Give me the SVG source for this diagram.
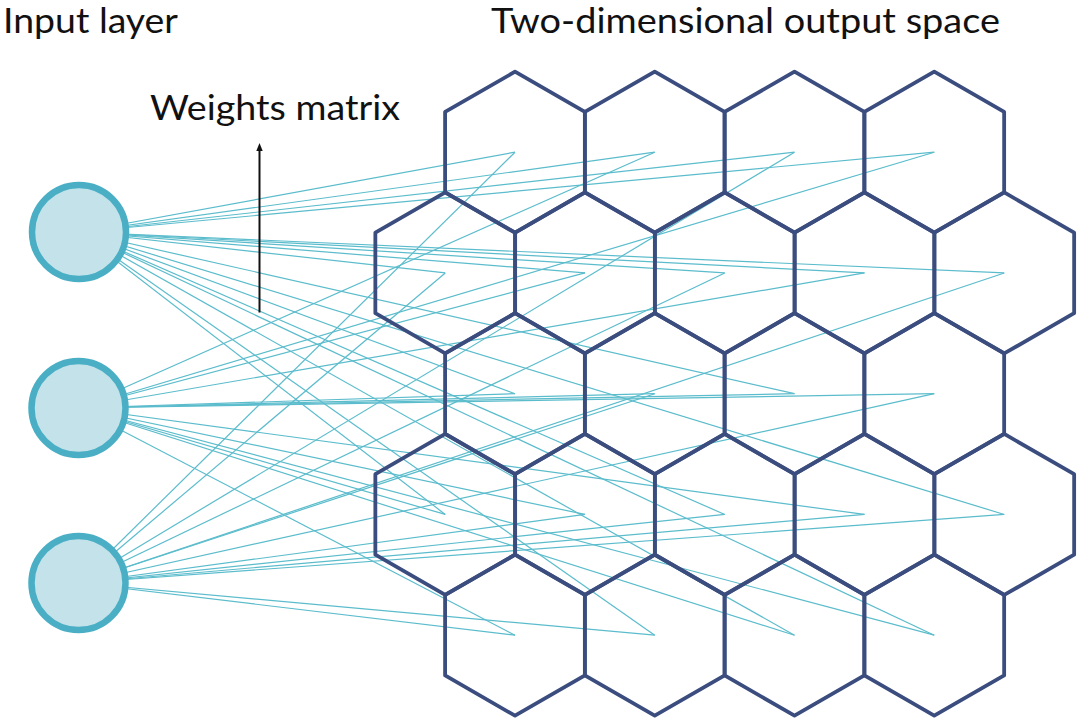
<svg xmlns="http://www.w3.org/2000/svg" xmlns:xlink="http://www.w3.org/1999/xlink" width="1080" height="721" viewBox="0 0 1080 721">
<style>
.lbl{font-family:Lato,"Liberation Sans",sans-serif;font-size:34px;fill:#111}
.hex{fill:none;stroke:#3b4d7e;stroke-width:3.8;stroke-linejoin:round}
.in{fill:#c4e2ea;stroke:#4aafc5;stroke-width:6.5}
.w{stroke:#5bbccc;stroke-width:1.2;fill:none}
.arrow{stroke:#111;stroke-width:2;fill:none}
</style>
<defs>
<polygon id="hx" points="0,-80.5 69.9,-40.25 69.9,40.25 0,80.5 -69.9,40.25 -69.9,-40.25"/>
<marker id="ah" markerWidth="8" markerHeight="8" refX="4" refY="4" orient="auto" markerUnits="userSpaceOnUse">
<path d="M0,0.8 L8,4 L0,7.2 Z" fill="#111"/>
</marker>
</defs>
<rect width="1080" height="721" fill="#fff"/>
<text class="lbl" x="3" y="33" textLength="175" lengthAdjust="spacingAndGlyphs">Input layer</text>
<text class="lbl" x="491" y="33" textLength="509" lengthAdjust="spacingAndGlyphs">Two-dimensional output space</text>
<text class="lbl" x="150" y="120" textLength="250" lengthAdjust="spacingAndGlyphs">Weights matrix</text>
<g id="connectors">
<g class="w">
<line x1="79" y1="232" x2="515" y2="152.2"/>
<line x1="78.5" y1="583" x2="515" y2="152.2"/>
<line x1="79" y1="232" x2="654.75" y2="152.2"/>
<line x1="78.5" y1="408" x2="654.75" y2="152.2"/>
<line x1="79" y1="232" x2="794.5" y2="152.2"/>
<line x1="78.5" y1="583" x2="794.5" y2="152.2"/>
<line x1="79" y1="232" x2="934.25" y2="152.2"/>
<line x1="78.5" y1="408" x2="934.25" y2="152.2"/>
<line x1="79" y1="232" x2="445.25" y2="272.95"/>
<line x1="78.5" y1="583" x2="445.25" y2="272.95"/>
<line x1="79" y1="232" x2="585" y2="272.95"/>
<line x1="78.5" y1="408" x2="585" y2="272.95"/>
<line x1="79" y1="232" x2="724.75" y2="272.95"/>
<line x1="78.5" y1="583" x2="724.75" y2="272.95"/>
<line x1="79" y1="232" x2="864.5" y2="272.95"/>
<line x1="78.5" y1="408" x2="864.5" y2="272.95"/>
<line x1="79" y1="232" x2="1004.25" y2="272.95"/>
<line x1="78.5" y1="583" x2="1004.25" y2="272.95"/>
<line x1="79" y1="232" x2="515" y2="393.7"/>
<line x1="78.5" y1="408" x2="515" y2="393.7"/>
<line x1="78.5" y1="408" x2="654.75" y2="393.7"/>
<line x1="78.5" y1="583" x2="654.75" y2="393.7"/>
<line x1="79" y1="232" x2="794.5" y2="393.7"/>
<line x1="78.5" y1="408" x2="794.5" y2="393.7"/>
<line x1="78.5" y1="408" x2="934.25" y2="393.7"/>
<line x1="78.5" y1="583" x2="934.25" y2="393.7"/>
<line x1="79" y1="232" x2="445.25" y2="514.45"/>
<line x1="78.5" y1="408" x2="445.25" y2="514.45"/>
<line x1="78.5" y1="408" x2="585" y2="514.45"/>
<line x1="78.5" y1="583" x2="585" y2="514.45"/>
<line x1="79" y1="232" x2="724.75" y2="514.45"/>
<line x1="78.5" y1="583" x2="724.75" y2="514.45"/>
<line x1="78.5" y1="408" x2="864.5" y2="514.45"/>
<line x1="78.5" y1="583" x2="864.5" y2="514.45"/>
<line x1="79" y1="232" x2="1004.25" y2="514.45"/>
<line x1="78.5" y1="583" x2="1004.25" y2="514.45"/>
<line x1="78.5" y1="408" x2="515" y2="635.2"/>
<line x1="78.5" y1="583" x2="515" y2="635.2"/>
<line x1="79" y1="232" x2="654.75" y2="635.2"/>
<line x1="78.5" y1="583" x2="654.75" y2="635.2"/>
<line x1="79" y1="232" x2="794.5" y2="635.2"/>
<line x1="78.5" y1="408" x2="794.5" y2="635.2"/>
<line x1="79" y1="232" x2="934.25" y2="635.2"/>
<line x1="78.5" y1="408" x2="934.25" y2="635.2"/>
</g>
<line class="arrow" x1="259.5" y1="312.5" x2="259.5" y2="147" marker-end="url(#ah)"/>
</g>
<g id="output-grid">
<g id="h1-1"><use xlink:href="#hx" class="hex" x="515" y="152.2"/></g>
<g id="h1-2"><use xlink:href="#hx" class="hex" x="654.75" y="152.2"/></g>
<g id="h1-3"><use xlink:href="#hx" class="hex" x="794.5" y="152.2"/></g>
<g id="h1-4"><use xlink:href="#hx" class="hex" x="934.25" y="152.2"/></g>
<g id="h2-1"><use xlink:href="#hx" class="hex" x="445.25" y="272.95"/></g>
<g id="h2-2"><use xlink:href="#hx" class="hex" x="585" y="272.95"/></g>
<g id="h2-3"><use xlink:href="#hx" class="hex" x="724.75" y="272.95"/></g>
<g id="h2-4"><use xlink:href="#hx" class="hex" x="864.5" y="272.95"/></g>
<g id="h2-5"><use xlink:href="#hx" class="hex" x="1004.25" y="272.95"/></g>
<g id="h3-1"><use xlink:href="#hx" class="hex" x="515" y="393.7"/></g>
<g id="h3-2"><use xlink:href="#hx" class="hex" x="654.75" y="393.7"/></g>
<g id="h3-3"><use xlink:href="#hx" class="hex" x="794.5" y="393.7"/></g>
<g id="h3-4"><use xlink:href="#hx" class="hex" x="934.25" y="393.7"/></g>
<g id="h4-1"><use xlink:href="#hx" class="hex" x="445.25" y="514.45"/></g>
<g id="h4-2"><use xlink:href="#hx" class="hex" x="585" y="514.45"/></g>
<g id="h4-3"><use xlink:href="#hx" class="hex" x="724.75" y="514.45"/></g>
<g id="h4-4"><use xlink:href="#hx" class="hex" x="864.5" y="514.45"/></g>
<g id="h4-5"><use xlink:href="#hx" class="hex" x="1004.25" y="514.45"/></g>
<g id="h5-1"><use xlink:href="#hx" class="hex" x="515" y="635.2"/></g>
<g id="h5-2"><use xlink:href="#hx" class="hex" x="654.75" y="635.2"/></g>
<g id="h5-3"><use xlink:href="#hx" class="hex" x="794.5" y="635.2"/></g>
<g id="h5-4"><use xlink:href="#hx" class="hex" x="934.25" y="635.2"/></g>
</g>
<g id="input-1"><circle class="in" cx="79" cy="232" r="47"/></g>
<g id="input-2"><circle class="in" cx="78.5" cy="408" r="47"/></g>
<g id="input-3"><circle class="in" cx="78.5" cy="583" r="47"/></g>
</svg>
